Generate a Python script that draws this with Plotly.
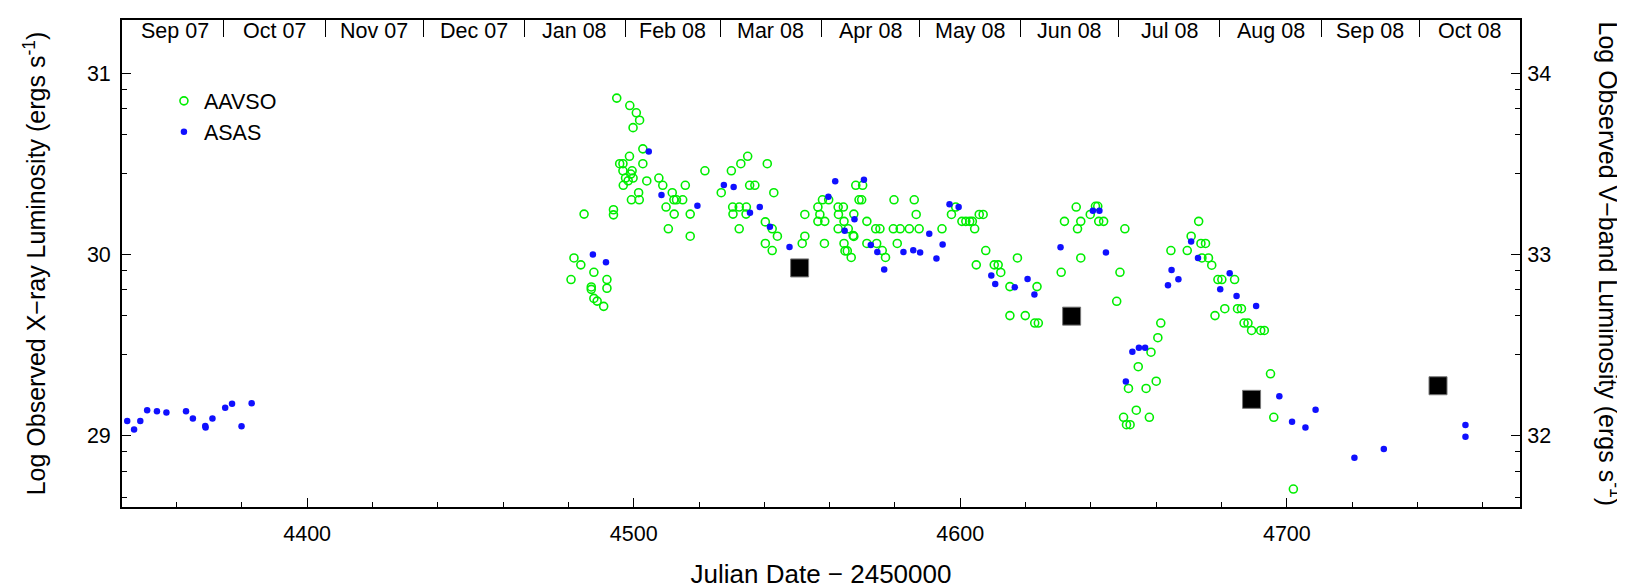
import numpy as np
import plotly.graph_objects as go

# ---------------- data ----------------
# optical points: JD - 2450000 and log V-band luminosity (right axis)
aavso_jd = [
    4494.8, 4498.8, 4500.8, 4501.8, 4499.8, 4502.8, 4498.7, 4495.7, 4496.7, 4502.8,
    4496.7, 4499.5, 4499.1, 4497.5, 4499.8, 4498.3, 4504.0, 4496.8, 4501.5, 4499.3,
    4501.7, 4507.7, 4508.9, 4511.8, 4512.3, 4513.1, 4515.0, 4515.8, 4509.9, 4512.4,
    4517.3, 4510.6, 4517.3, 4521.8, 4526.8, 4529.9, 4532.8, 4534.9, 4535.5, 4537.1,
    4540.9, 4542.9, 4530.3, 4532.3, 4534.5, 4530.4, 4534.4, 4532.3, 4540.3, 4542.4,
    4544.0, 4540.3, 4542.4, 4484.8, 4493.8, 4493.8, 4481.7, 4483.8, 4487.8, 4480.8,
    4491.8, 4487.0, 4487.0, 4491.8, 4487.8, 4488.8, 4490.8,
    4552.4, 4552.4, 4551.6, 4556.4, 4557.8, 4559.7, 4557.0, 4556.4, 4558.5, 4558.4,
    4562.6, 4564.2, 4562.7, 4564.4, 4562.6, 4565.7, 4567.4, 4568.0, 4570.1, 4569.0,
    4569.8, 4571.4, 4567.2, 4567.4, 4564.4, 4564.7, 4565.4, 4566.6, 4571.4, 4574.4,
    4576.1, 4577.1, 4574.1, 4575.4, 4579.7, 4579.5, 4581.6, 4580.7, 4584.4, 4585.9,
    4586.5, 4587.4, 4594.4, 4597.3, 4598.6, 4600.5, 4601.7, 4602.9, 4603.7, 4605.8,
    4607.0, 4604.4, 4607.8, 4604.9, 4610.4, 4611.6, 4612.4,
    4615.2, 4615.2, 4617.5, 4619.9, 4622.8, 4623.9, 4623.5, 4630.9, 4631.9, 4635.5,
    4636.9, 4635.9, 4636.9, 4639.8, 4641.4, 4642.1, 4642.4, 4643.9, 4650.4, 4648.9,
    4647.9, 4661.4, 4660.5, 4658.4, 4654.5, 4651.5, 4656.9, 4660.0, 4653.9, 4650.0,
    4650.9, 4652.0, 4657.9, 4664.5, 4669.5, 4670.7, 4673.0, 4673.7, 4675.1, 4674.0,
    4676.0, 4677.0, 4678.9, 4680.1, 4684.0, 4681.0, 4678.0, 4684.9, 4686.1, 4686.9,
    4688.1, 4689.2, 4692.0, 4693.1, 4695.0, 4696.0, 4702.0,
]
aavso_logLV = [
    33.864, 33.823, 33.783, 33.742, 33.701, 33.584, 33.543, 33.502, 33.502, 33.502,
    33.463, 33.463, 33.445, 33.423, 33.423, 33.408, 33.407, 33.383, 33.342, 33.303,
    33.303, 33.423, 33.383, 33.342, 33.303, 33.303, 33.303, 33.383, 33.263, 33.224,
    33.224, 33.143, 33.102, 33.463, 33.342, 33.463, 33.502, 33.543, 33.383, 33.383,
    33.502, 33.342, 33.263, 33.263, 33.263, 33.224, 33.224, 33.143, 33.181, 33.143,
    33.102, 33.062, 33.023, 33.224, 33.248, 33.220, 32.982, 32.944, 32.903, 32.863,
    32.863, 32.822, 32.809, 32.815, 32.759, 32.744, 32.715,
    33.222, 33.102, 33.062, 33.263, 33.303, 33.303, 33.222, 33.184, 33.184, 33.062,
    33.263, 33.263, 33.222, 33.184, 33.143, 33.143, 33.224, 33.383, 33.383, 33.303,
    33.303, 33.184, 33.106, 33.101, 33.062, 33.021, 33.021, 32.985, 33.062, 33.062,
    33.023, 32.985, 33.143, 33.143, 33.303, 33.143, 33.143, 33.062, 33.143, 33.303,
    33.222, 33.143, 33.143, 33.222, 33.263, 33.184, 33.184, 33.184, 33.184, 33.222,
    33.222, 33.143, 33.023, 32.944, 32.944, 32.944, 32.902,
    32.824, 32.664, 32.982, 32.664, 32.623, 32.623, 32.824, 32.903, 33.184, 33.263,
    33.184, 33.143, 32.982, 33.222, 33.267, 33.267, 33.184, 33.184, 33.143, 32.903,
    32.743, 32.623, 32.542, 32.462, 32.382, 32.262, 32.262, 32.302, 32.142, 32.103,
    32.062, 32.062, 32.103, 33.023, 33.023, 33.102, 33.184, 33.062, 33.062, 32.982,
    32.982, 32.942, 32.863, 32.863, 32.863, 32.702, 32.664, 32.702, 32.702, 32.623,
    32.623, 32.582, 32.582, 32.582, 32.343, 32.103, 31.707,
]

asas_jd = [
    4344.9, 4347.0, 4348.9, 4351.0, 4354.0, 4356.9, 4362.9, 4365.0, 4368.8, 4368.9,
    4371.0, 4374.9, 4377.0, 4379.9, 4383.0,
    4504.6, 4487.5, 4491.5, 4508.5, 4519.5, 4527.6, 4530.6, 4538.6, 4535.6, 4541.7,
    4547.7, 4561.7, 4570.5, 4559.6, 4567.6, 4564.6, 4572.6, 4574.6, 4576.7, 4582.6,
    4585.6, 4587.7, 4590.5, 4592.7, 4594.6, 4596.7, 4599.5, 4609.5, 4610.7,
    4616.7, 4620.6, 4622.7, 4630.7, 4640.6, 4642.6, 4644.6, 4652.7, 4654.7, 4656.6,
    4650.7, 4664.7, 4666.8, 4663.6, 4670.7, 4672.8, 4679.6, 4682.5, 4684.6, 4690.6,
    4697.7, 4701.6, 4705.7, 4708.8, 4720.7, 4729.7, 4754.7, 4754.7,
]
asas_logLV = [
    32.083, 32.035, 32.083, 32.142, 32.136, 32.129, 32.136, 32.096, 32.055, 32.046,
    32.096, 32.155, 32.177, 32.053, 32.180,
    33.569, 33.001, 32.959, 33.329, 33.270, 33.384, 33.373, 33.263, 33.231, 33.154,
    33.043, 33.405, 33.414, 33.320, 33.195, 33.132, 33.053, 33.015, 32.918, 33.015,
    33.025, 33.012, 33.115, 32.979, 33.056, 33.279, 33.263, 32.885, 32.838,
    32.820, 32.866, 32.780, 33.041, 33.242, 33.242, 33.012, 32.465, 32.487, 32.487,
    32.300, 32.916, 32.864, 32.831, 33.073, 32.982, 32.809, 32.898, 32.772, 32.717,
    32.219, 32.079, 32.046, 32.145, 31.880, 31.928, 32.060, 31.996,
]

# X-ray points: log X-ray luminosity (left axis)
xray_jd = [4550.8, 4634.1, 4689.2, 4746.3]
xray_logLX = [29.927, 29.661, 29.202, 29.277]

month_labels = ["Sep 07", "Oct 07", "Nov 07", "Dec 07", "Jan 08", "Feb 08", "Mar 08",
                "Apr 08", "May 08", "Jun 08", "Jul 08", "Aug 08", "Sep 08", "Oct 08"]
month_starts = [4344.5, 4374.5, 4405.5, 4435.5, 4466.5, 4497.5, 4526.5, 4557.5,
                4587.5, 4618.5, 4648.5, 4679.5, 4710.5, 4740.5, 4771.5]

x_ticks = [4400, 4500, 4600, 4700]
y_ticks = [29, 30, 31]
y2_ticks = [32, 33, 34]

# ---------------- layout constants ----------------
X_RANGE = [4343.3, 4771.4]
Y_RANGE = [28.608, 31.295]
Y2_RANGE = [Y_RANGE[0] + 3, Y_RANGE[1] + 3]
FONT = "Liberation Sans, Arial, Helvetica, sans-serif"

minor_frac = np.log10([2.8, 4.6, 6.4, 8.2])
y_minor = [d + f for d in range(28, 32) for f in minor_frac]
y2_minor = [d + f for d in range(31, 35) for f in minor_frac]

fig = go.Figure()

fig.add_trace(go.Scatter(
    x=aavso_jd, y=aavso_logLV, mode="markers", name="AAVSO",
    xaxis="x2", yaxis="y2",
    marker=dict(symbol="circle-open", size=8, color="#00ee00",
                line=dict(width=1.6, color="#00ee00")),
))
fig.add_trace(go.Scatter(
    x=asas_jd, y=asas_logLV, mode="markers", name="ASAS",
    xaxis="x2", yaxis="y2",
    marker=dict(symbol="circle", size=6.5, color="#1010ff"),
))
fig.add_trace(go.Scatter(
    x=xray_jd, y=xray_logLX, mode="markers", name="X-ray", showlegend=False,
    xaxis="x", yaxis="y",
    marker=dict(symbol="square", size=18, color="black",
                line=dict(width=1, color="#777777")),
))

# month labels along the top, inside the frame
month_mids = [(a + b) / 2 for a, b in zip(month_starts[:-1], month_starts[1:])]
for lab, xm in zip(month_labels, month_mids):
    fig.add_annotation(x=xm, xref="x", y=1, yref="paper", yanchor="middle",
                       yshift=-11, text=lab, showarrow=False,
                       font=dict(size=21.5, color="black", family=FONT))

# right-hand title (reads top to bottom)
fig.add_annotation(x=1, xref="paper", y=0.5, yref="paper", xanchor="center",
                   xshift=90, text="Log Observed V\u2212band Luminosity (ergs s<sup>-1</sup>)",
                   textangle=90, showarrow=False,
                   font=dict(size=25, color="black", family=FONT))

axis_common = dict(showline=True, linecolor="black", linewidth=1.8, showgrid=False,
                   zeroline=False, ticks="inside", tickcolor="black", tickwidth=1.2,
                   automargin=False)

fig.update_layout(
    width=1625, height=587,
    margin=dict(l=114, r=113, t=12, b=88),
    paper_bgcolor="white", plot_bgcolor="white",
    font=dict(family=FONT, size=21.5, color="black"),
    showlegend=True,
    legend=dict(x=0.030, y=0.876, xanchor="left", yanchor="top",
                bgcolor="rgba(0,0,0,0)", font=dict(size=21.5, family=FONT),
                itemsizing="trace", tracegroupgap=0),
    xaxis=dict(range=X_RANGE, tickvals=x_ticks, ticklen=9, anchor="y",
               minor=dict(dtick=20, tick0=4400, ticklen=5, ticks="inside",
                          tickcolor="black", tickwidth=1),
               ticklabelstandoff=6,
               title=dict(text="Julian Date \u2212 2450000", standoff=20,
                          font=dict(size=26, family=FONT)),
               **axis_common),
    xaxis2=dict(range=X_RANGE, overlaying="x", side="top", anchor="y2",
                tickvals=month_starts[1:-1], ticklen=17, showticklabels=False,
                **axis_common),
    yaxis=dict(range=Y_RANGE, tickvals=y_ticks, ticklen=9, anchor="x",
               minor=dict(tickvals=y_minor, ticklen=5, ticks="inside",
                          tickcolor="black", tickwidth=1),
               ticklabelstandoff=5,
               title=dict(text="Log Observed X\u2212ray Luminosity (ergs s<sup>-1</sup>)",
                          standoff=34, font=dict(size=25, family=FONT)),
               **axis_common),
    yaxis2=dict(range=Y2_RANGE, overlaying="y", side="right", anchor="x2",
                tickvals=y2_ticks, ticklen=9,
                minor=dict(tickvals=y2_minor, ticklen=5, ticks="inside",
                           tickcolor="black", tickwidth=1),
                ticklabelstandoff=1,
                **axis_common),
)

fig.write_html("out.html")
